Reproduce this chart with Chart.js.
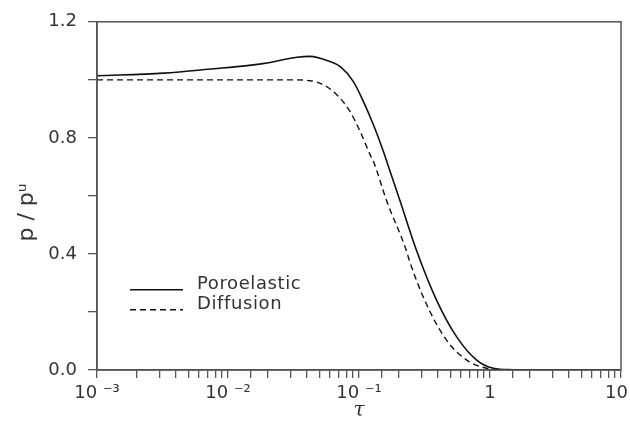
<!DOCTYPE html>
<html>
<head>
<meta charset="utf-8">
<script src="https://cdn.jsdelivr.net/npm/chart.js@4"></script>
<style>
  html, body { margin: 0; padding: 0; background: #fff; }
  #wrap { width: 630px; height: 423px; }
</style>
</head>
<body>
<div id="wrap"><canvas id="chart"></canvas></div>
<script>
// values
const tauPoro = [0.001, 0.00323, 0.00778, 0.014, 0.021, 0.0336, 0.0423, 0.060, 0.0716, 0.0906,
                 0.1079, 0.1286, 0.1534, 0.1626, 0.2056, 0.2754, 0.3914, 0.557, 0.791, 1.06, 1.5, 2, 10];
const poroelastic = [1.014, 1.023, 1.038, 1.049, 1.060, 1.078, 1.081, 1.063, 1.046, 0.994,
                     0.926, 0.846, 0.754, 0.720, 0.583, 0.411, 0.240, 0.114, 0.034, 0.006, 0.001, 0, 0];

const tauDiff = [0.001, 0.01, 0.03, 0.0423, 0.0534, 0.0676, 0.0853, 0.1018, 0.1213, 0.1286,
                 0.1626, 0.2302, 0.2425, 0.3256, 0.4654, 0.665, 0.944, 1.3, 2, 10];
const diffusion = [1.0, 1.0, 1.0, 0.997, 0.983, 0.949, 0.891, 0.823, 0.743, 0.720,
                   0.583, 0.411, 0.377, 0.229, 0.103, 0.034, 0.006, 0.001, 0, 0];

const seriesNames = ['Poroelastic', 'Diffusion'];
const yLabelTicks = [0, 0.4, 0.8, 1.2];
const supDigits = { '-': '\u207B', '0': '\u2070', '1': '\u00B9', '2': '\u00B2', '3': '\u00B3' };

const TEXT = '#333';
const AXIS = '#555';
const FONT = 'DejaVu Sans';

function pairs(xs, ys) {
    return xs.map((x, i) => ({ x: x, y: ys[i] }));
}

function xTickLabel(v) {
    const e = Math.round(Math.log10(v));
    if (Math.abs(Math.log10(v) - e) > 1e-6) return '';
    if (e === 0) return '1';
    if (e === 1) return '10\u2002';   // trailing space keeps it inside the canvas
    const sup = String(e).split('').map(c => supDigits[c]).join('');
    return '10 ' + sup;
}

// full box round the plot
const frame = {
    id: 'frame',
    afterDatasetsDraw(chart) {
        const { ctx, chartArea: a } = chart;
        ctx.save();
        ctx.strokeStyle = AXIS;
        ctx.lineWidth = 1.5;
        ctx.strokeRect(a.left, a.top, a.right - a.left, a.bottom - a.top);
        ctx.restore();
    }
};

// legend sits inside the plot, lower left
const insideLegend = {
    id: 'insideLegend',
    afterDraw(chart) {
        const { ctx, chartArea: a } = chart;
        const x0 = a.left + 33, x1 = a.left + 86, tx = a.left + 100;
        let y = a.top + 268;
        ctx.save();
        ctx.font = '18px ' + FONT;
        ctx.letterSpacing = '0.6px';
        ctx.textBaseline = 'middle';
        chart.data.datasets.forEach(ds => {
            ctx.strokeStyle = ds.borderColor;
            ctx.lineWidth = ds.borderWidth;
            ctx.setLineDash(ds.borderDash || []);
            ctx.beginPath();
            ctx.moveTo(x0, y);
            ctx.lineTo(x1, y);
            ctx.stroke();
            ctx.setLineDash([]);
            ctx.fillStyle = TEXT;
            ctx.fillText(ds.label, tx, y - 5);
            y += 20;
        });
        ctx.restore();
    }
};

new Chart(document.getElementById('chart'), {
    type: 'line',
    data: {
        datasets: [
            {
                label: seriesNames[0],
                data: pairs(tauPoro, poroelastic),
                borderColor: '#111',
                borderWidth: 1.6,
                pointRadius: 0,
                cubicInterpolationMode: 'monotone',
                fill: false
            },
            {
                label: seriesNames[1],
                data: pairs(tauDiff, diffusion),
                borderColor: '#111',
                borderWidth: 1.4,
                borderDash: [6, 4],
                pointRadius: 0,
                cubicInterpolationMode: 'monotone',
                fill: false
            }
        ]
    },
    options: {
        responsive: true,
        maintainAspectRatio: false,
        animation: false,
        layout: { padding: { top: 20, right: 9, left: 0, bottom: 0 } },
        plugins: {
            legend: { display: false },
            tooltip: { enabled: false }
        },
        scales: {
            x: {
                type: 'logarithmic',
                min: 0.001,
                max: 10,
                afterFit: s => { s.height = 53; s.paddingRight = 0; s.paddingLeft = 0; },
                grid: { drawOnChartArea: false, tickLength: 8, color: AXIS, lineWidth: 1.3 },
                border: { color: AXIS, width: 1.5 },
                ticks: {
                    autoSkip: false,
                    maxRotation: 0,
                    padding: 5,
                    color: TEXT,
                    font: { family: FONT, size: 18 },
                    callback: v => xTickLabel(v)
                },
                title: {
                    display: true,
                    text: '\u03C4',
                    color: TEXT,
                    padding: { top: 0, bottom: 0 },
                    font: { family: 'DejaVu Serif', size: 20, style: 'italic' }
                }
            },
            y: {
                min: 0,
                max: 1.2,
                afterFit: s => { s.width = 97; },
                grid: { drawOnChartArea: false, tickLength: 9, color: AXIS, lineWidth: 1.3 },
                border: { color: AXIS, width: 1.5 },
                ticks: {
                    stepSize: 0.2,
                    padding: 11,
                    color: TEXT,
                    font: { family: FONT, size: 18 },
                    callback: v => yLabelTicks.some(t => Math.abs(t - v) < 1e-6) ? v.toFixed(1) : ''
                },
                title: {
                    display: true,
                    text: 'p / p\u1D58\u2003\u2002',
                    color: TEXT,
                    padding: { top: 14, bottom: 0 },
                    font: { family: FONT, size: 22 }
                }
            }
        }
    },
    plugins: [frame, insideLegend]
});
</script>
</body>
</html>
